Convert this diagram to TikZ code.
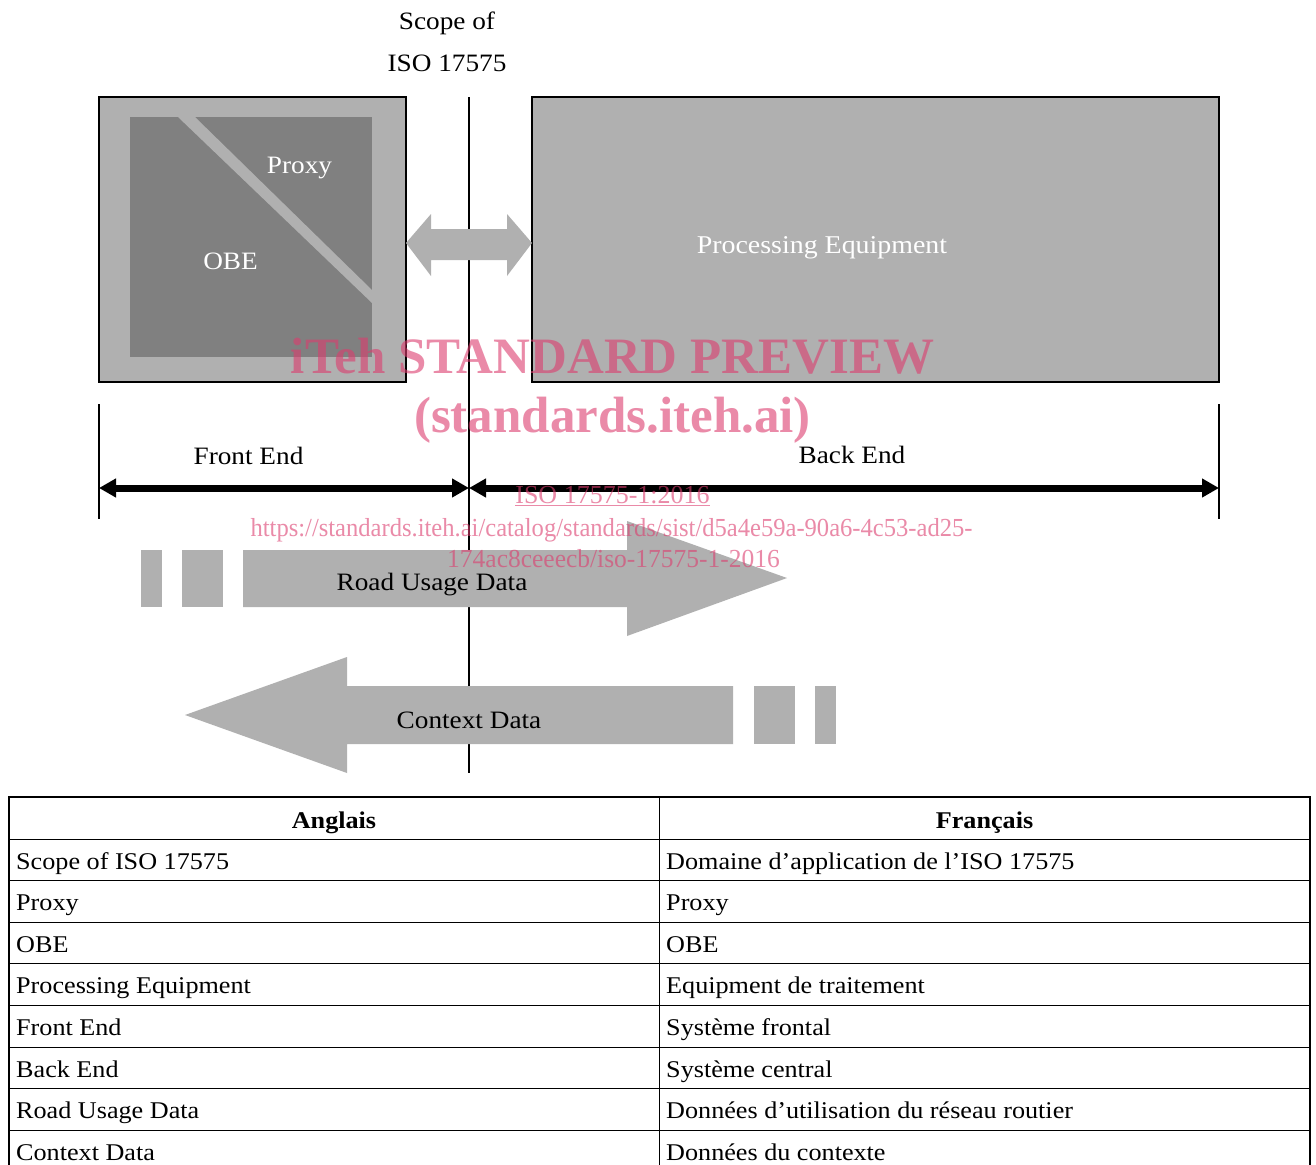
\documentclass[tikz,border=0pt]{standalone}
\usepackage{fontspec}
\setmainfont{Liberation Serif}
\newfontfamily\cam{Liberation Serif}[FakeStretch=1.09]
\usetikzlibrary{arrows.meta}
\definecolor{lightg}{RGB}{176,176,176}
\definecolor{darkg}{RGB}{128,128,128}
\definecolor{wm}{RGB}{220,60,110}
\begin{document}
\begin{tikzpicture}[x=1pt,y=-1pt,
  lbl/.style={font=\cam\fontsize{25}{30}\selectfont, anchor=base, inner sep=0pt},
  wlbl/.style={lbl, text=white},
  cell/.style={font=\cam\fontsize{24}{28}\selectfont, anchor=base west, inner sep=0pt},
  headcell/.style={font=\cam\bfseries\fontsize{24}{28}\selectfont, anchor=base, inner sep=0pt},
  gshape/.style={fill=lightg, draw=none},
  boxst/.style={fill=lightg, draw=black, line width=2pt},
  dimline/.style={line width=7pt, {Triangle[length=17pt,width=18pt]}-{Triangle[length=17pt,width=18pt]}},
  tickline/.style={line width=2pt},
  wmark/.style={text=wm, text opacity=0.6, inner sep=0pt, anchor=base},
]
\useasboundingbox (0,0) rectangle (1316,1164);
\clip (0,0) rectangle (1316,1164);
\fill[white] (0,0) rectangle (1316,1164);

% scope line
\coordinate (sTop) at (469,97);
\coordinate (sBot) at (469,773);
\draw[tickline] (sTop) -- (sBot);

% scope label
\node[lbl] (scope1) at (447,30) {Scope of};
\node[lbl] (scope2) at (447,71) {ISO 17575};

% left box
\draw[boxst] (99,97) rectangle (406,382);
\fill[darkg] (130,117) rectangle (372,357);
\fill[lightg] (178,117) -- (195,117) -- (372,290) -- (372,303) -- cycle;
\node[wlbl] (proxy) at (299.5,173) {Proxy};
\node[wlbl] (obe) at (230.5,269) {OBE};

% right box
\draw[boxst] (532,97) rectangle (1219,382);
\node[wlbl, font=\cam\fontsize{25.6}{30}\selectfont] (proc) at (822,253) {Processing Equipment};

% double arrow between boxes
\fill[gshape] (406,243) -- (431,214) -- (431,229) -- (507,229) -- (507,214) -- (532,243)
  -- (507,276) -- (507,260) -- (431,260) -- (431,276) -- cycle;

% dimension lines
\coordinate (dL) at (99,488);
\coordinate (dM) at (469,488);
\coordinate (dR) at (1219,488);
\draw[tickline] (99,404) -- (99,519);
\draw[tickline] (1219,404) -- (1219,519);
\draw[dimline] (dL) -- (dM);
\draw[dimline] (dM) -- (dR);
\node[lbl] (front) at (248.5,464) {Front End};
\node[lbl] (back) at (852,463) {Back End};

% road usage data arrow
\fill[gshape] (141,550) rectangle (162,607);
\fill[gshape] (182,550) rectangle (223,607);
\fill[gshape] (243,550) -- (627,550) -- (627,521) -- (787,578) -- (627,636) -- (627,607) -- (243,607) -- cycle;
\node[lbl] (rud) at (432,590) {Road Usage Data};

% context data arrow
\fill[gshape] (185,715) -- (347,657) -- (347,686) -- (733,686) -- (733,744) -- (347,744) -- (347,773) -- cycle;
\fill[gshape] (754,686) rectangle (795,744);
\fill[gshape] (815,686) rectangle (836,744);
\node[lbl] (ctx) at (469,728) {Context Data};

% watermark
\node[wmark, font=\bfseries\fontsize{51}{56}\selectfont] (wm1) at (612.5,373) {iTeh STANDARD PREVIEW};
\node[wmark, font=\bfseries\fontsize{51}{56}\selectfont] (wm2) at (612.5,432) {(standards.iteh.ai)};
\node[wmark, font=\fontsize{26}{30}\selectfont] (wm3) at (612.5,503) {\underline{ISO 17575-1:2016}};
\node[wmark, font=\fontsize{26}{30}\selectfont] (wm4) at (611.5,536) {\scalebox{0.945}[1]{https://standards.iteh.ai/catalog/standards/sist/d5a4e59a-90a6-4c53-ad25-}};
\node[wmark, font=\fontsize{26}{30}\selectfont] (wm5) at (613.5,567) {\scalebox{0.98}[1]{174ac8ceeecb/iso-17575-1-2016}};

% table
\foreach \yy in {839,880.6,922.2,963.8,1005.4,1047,1088.6,1130.2}
  \draw[line width=1pt] (9,\yy) -- (1310,\yy);
\draw[line width=1pt] (659,797) -- (659,1170);
\draw[line width=2pt] (9,1170) -- (9,797) -- (1310,797) -- (1310,1170);
\node[headcell] (hEn) at (334,828) {Anglais};
\node[headcell] (hFr) at (984.5,828) {Français};
\foreach \i/\en/\fr in {0/{Scope of ISO 17575}/{Domaine d’application de l’ISO 17575},
  1/{Proxy}/{Proxy},
  2/{OBE}/{OBE},
  3/{Processing Equipment}/{Equipment de traitement},
  4/{Front End}/{Système frontal},
  5/{Back End}/{Système central},
  6/{Road Usage Data}/{Données d’utilisation du réseau routier},
  7/{Context Data}/{Données du contexte}} {
  \node[cell] (en\i) at (16,869+41.6*\i) {\en};
  \node[cell] (fr\i) at (666,869+41.6*\i) {\fr};
}
\end{tikzpicture}
\end{document}
